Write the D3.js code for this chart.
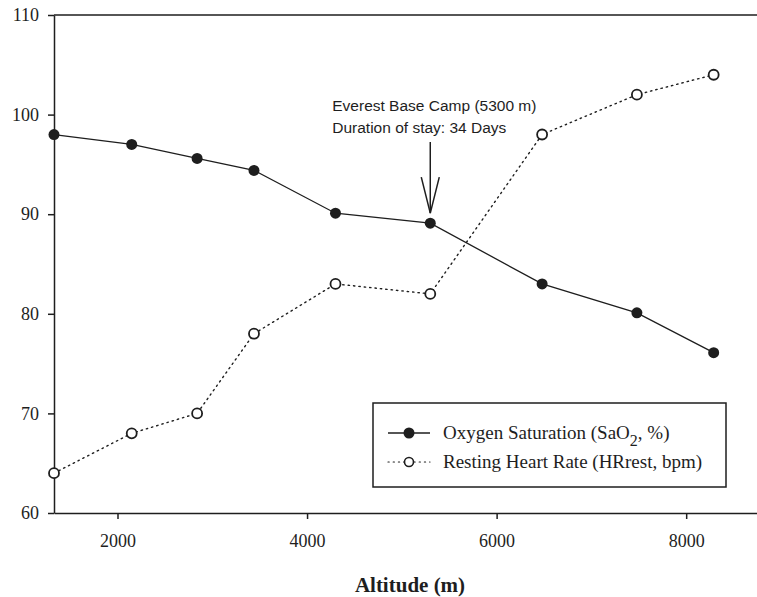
<!DOCTYPE html>
<html>
<head>
<meta charset="utf-8">
<script src="https://cdn.jsdelivr.net/npm/d3@7"></script>
<style>
  body { margin: 0; background: #fff; }
  svg { display: block; }
</style>
</head>
<body>
<svg id="chart" width="757" height="597"></svg>
<script>
// altitude (m) of each measurement
const altitudes = [1330, 2150, 2840, 3440, 4300, 5300, 6480, 7480, 8290];
// oxygen saturation SaO2 (%)
const saturation = [98, 97, 95.6, 94.4, 90.1, 89.1, 83, 80.1, 76.1];
// resting heart rate (bpm)
const heartRate = [64, 68, 70, 78, 83, 82, 98, 102, 104];

const xTicks = [2000, 4000, 6000, 8000];
const yTicks = [60, 70, 80, 90, 100, 110];

const ink = "#1e1e1e";
const serif = "'Liberation Serif', 'Times New Roman', serif";

const margin = { left: 54, top: 15 };
const plotW = 708, plotH = 498;

const svg = d3.select("#chart");
const g = svg.append("g")
  .attr("transform", `translate(${margin.left},${margin.top})`);

const x = d3.scaleLinear().domain([1330, 8800]).range([0, plotW]);
const y = d3.scaleLinear().domain([60, 110]).range([plotH, 0]);

// top frame line
g.append("line")
  .attr("x1", 0).attr("x2", plotW).attr("y1", 0).attr("y2", 0)
  .attr("stroke", ink).attr("stroke-width", 1.5);

// y axis
const yAxis = g.append("g")
  .call(d3.axisLeft(y).tickValues(yTicks).tickSize(6).tickSizeOuter(0).tickPadding(9));
yAxis.select(".domain").attr("stroke", ink).attr("stroke-width", 1.5);
yAxis.selectAll(".tick line").attr("stroke", ink).attr("stroke-width", 1.5);
yAxis.selectAll("text")
  .attr("fill", ink)
  .style("font-family", serif)
  .style("font-size", "18px");

// x axis
const xAxis = g.append("g")
  .attr("transform", `translate(0,${plotH})`)
  .call(d3.axisBottom(x).tickValues(xTicks).tickSize(6).tickSizeOuter(0).tickPadding(15).tickFormat(d3.format("d")));
xAxis.select(".domain").attr("stroke", ink).attr("stroke-width", 1.5);
xAxis.selectAll(".tick line").attr("stroke", ink).attr("stroke-width", 1.5);
xAxis.selectAll("text")
  .attr("fill", ink)
  .style("font-family", serif)
  .style("font-size", "18px");

// axis title
svg.append("text")
  .attr("x", 410)
  .attr("y", 592)
  .attr("text-anchor", "middle")
  .attr("fill", ink)
  .style("font-family", serif)
  .style("font-size", "21px")
  .style("font-weight", "bold")
  .text("Altitude (m)");

const line = d3.line()
  .x(d => x(d[0]))
  .y(d => y(d[1]));

const satData = altitudes.map((a, i) => [a, saturation[i]]);
const hrData = altitudes.map((a, i) => [a, heartRate[i]]);

// heart rate: dotted line, open circles
g.append("path")
  .datum(hrData)
  .attr("d", line)
  .attr("fill", "none")
  .attr("stroke", ink)
  .attr("stroke-width", 1.4)
  .attr("stroke-dasharray", "1.4,4")
  .attr("stroke-linecap", "round");

// saturation: solid line, filled circles
g.append("path")
  .datum(satData)
  .attr("d", line)
  .attr("fill", "none")
  .attr("stroke", ink)
  .attr("stroke-width", 1.3);

g.selectAll("circle.hr")
  .data(hrData)
  .enter()
  .append("circle")
  .attr("class", "hr")
  .attr("cx", d => x(d[0]))
  .attr("cy", d => y(d[1]))
  .attr("r", 5)
  .attr("fill", "#fff")
  .attr("stroke", ink)
  .attr("stroke-width", 1.8);

g.selectAll("circle.sat")
  .data(satData)
  .enter()
  .append("circle")
  .attr("class", "sat")
  .attr("cx", d => x(d[0]))
  .attr("cy", d => y(d[1]))
  .attr("r", 5.5)
  .attr("fill", ink);

// annotation: Everest base camp arrow
const campX = x(5300);
const campY = y(saturation[5]);
const ann = g.append("g").attr("fill", ink)
  .style("font-family", "'Liberation Sans', Arial, sans-serif")
  .style("font-size", "15.5px");
ann.append("text").attr("x", campX - 98).attr("y", 96).text("Everest Base Camp (5300 m)");
ann.append("text").attr("x", campX - 98).attr("y", 118).text("Duration of stay: 34 Days");

g.append("line")
  .attr("x1", campX).attr("x2", campX)
  .attr("y1", 127).attr("y2", campY - 10)
  .attr("stroke", ink).attr("stroke-width", 1.5);
g.append("path")
  .attr("d", `M${campX - 9},${campY - 46}L${campX},${campY - 10}L${campX + 9},${campY - 46}`)
  .attr("fill", "none")
  .attr("stroke", ink)
  .attr("stroke-width", 1.5);

// legend
const legend = svg.append("g").attr("transform", "translate(373,403)");
legend.append("rect")
  .attr("width", 353).attr("height", 84)
  .attr("fill", "#fff")
  .attr("stroke", ink)
  .attr("stroke-width", 1.5);

const row1 = legend.append("g").attr("transform", "translate(0,30)");
row1.append("line").attr("x1", 15).attr("x2", 57).attr("stroke", ink).attr("stroke-width", 1.3);
row1.append("circle").attr("cx", 36).attr("r", 5.5).attr("fill", ink);
const t1 = row1.append("text").attr("x", 70).attr("y", 6)
  .attr("fill", ink)
  .style("font-family", serif).style("font-size", "19px");
t1.append("tspan").text("Oxygen Saturation (SaO");
t1.append("tspan").attr("dy", 7).style("font-size", "16px").text("2");
t1.append("tspan").attr("dy", -7).text(", %)");

const row2 = legend.append("g").attr("transform", "translate(0,59)");
row2.append("line").attr("x1", 15).attr("x2", 57)
  .attr("stroke", ink).attr("stroke-width", 1.2)
  .attr("stroke-dasharray", "1.2,4").attr("stroke-linecap", "round");
row2.append("circle").attr("cx", 36).attr("r", 4.5)
  .attr("fill", "#fff").attr("stroke", ink).attr("stroke-width", 1.6);
row2.append("text").attr("x", 70).attr("y", 6)
  .attr("fill", ink)
  .style("font-family", serif).style("font-size", "19px")
  .text("Resting Heart Rate (HRrest, bpm)");
</script>
</body>
</html>
